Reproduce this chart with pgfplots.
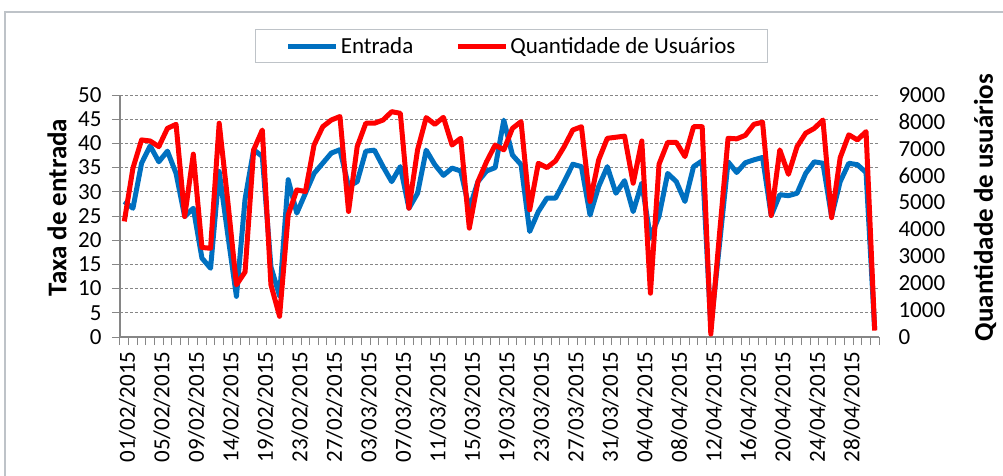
\documentclass[border=0pt]{standalone}
\usepackage{pgfplots}
\pgfplotsset{compat=1.18}
\usepackage{pgfplotstable}
\usepackage{fontspec}
\setmainfont{Carlito}
\definecolor{excelblue}{RGB}{0,112,192}
\definecolor{excelred}{RGB}{255,0,0}
\definecolor{axgray}{RGB}{134,134,134}
\definecolor{framegray}{RGB}{190,195,200}
\pgfplotstableread{
i blue red
0 28.0 4300
1 26.6 6280
2 35.9 7330
3 39.5 7290
4 36.2 7080
5 38.4 7760
6 33.8 7910
7 24.9 4480
8 26.6 6800
9 16.3 3330
10 14.2 3300
11 34.2 7950
12 21.1 5040
13 8.4 1940
14 28.5 2420
15 38.7 6960
16 37.3 7700
17 14.5 1940
18 8.5 770
19 32.5 4540
20 25.6 5470
21 29.7 5410
22 33.8 7140
23 35.9 7820
24 38.0 8070
25 38.7 8200
26 31.1 4670
27 32.1 7080
28 38.4 7950
29 38.6 7950
30 35.2 8070
31 32.1 8380
32 35.2 8320
33 26.6 4790
34 29.7 6960
35 38.6 8160
36 35.6 7910
37 33.4 8170
38 34.9 7140
39 34.3 7390
40 26.5 4050
41 32.1 5780
42 34.3 6520
43 35.0 7140
44 44.8 6960
45 37.6 7760
46 35.6 8010
47 21.8 4730
48 25.9 6460
49 28.7 6300
50 28.7 6550
51 32.1 7080
52 35.7 7700
53 35.2 7820
54 25.2 5040
55 31.1 6590
56 35.2 7390
57 29.7 7430
58 32.3 7470
59 25.9 5720
60 31.8 7290
61 20.5 1630
62 25.0 6430
63 33.8 7240
64 32.1 7240
65 28.0 6710
66 35.2 7820
67 36.4 7820
68 2.0 110
69 19.0 3800
70 36.2 7390
71 34.0 7370
72 36.0 7500
73 36.6 7910
74 37.1 7990
75 25.1 4520
76 29.4 6960
77 29.2 6050
78 29.7 7080
79 33.8 7580
80 36.2 7760
81 35.9 8070
82 24.9 4440
83 32.1 6670
84 35.9 7520
85 35.6 7330
86 34.0 7640
87 1.5 240
}\datatable
\begin{document}
\begin{tikzpicture}
\begin{axis}[
  at={(0pt,0pt)}, anchor=south west, scale only axis,
  width=759pt, height=242pt,
  xmin=-0.5, xmax=87.5, ymin=0, ymax=50,
  axis x line*=bottom, axis y line*=left,
  axis line style={axgray, line width=1.2pt, -},
  ytick={0,5,...,50},
  ymajorgrids,
  grid style={axgray, dash pattern=on 3pt off 2pt, line width=1pt},
  xtick={0,4,...,84},
  xticklabels={01/02/2015,05/02/2015,09/02/2015,14/02/2015,19/02/2015,23/02/2015,27/02/2015,03/03/2015,07/03/2015,11/03/2015,15/03/2015,19/03/2015,23/03/2015,27/03/2015,31/03/2015,04/04/2015,08/04/2015,12/04/2015,16/04/2015,20/04/2015,24/04/2015,28/04/2015},
  minor xtick={-0.5,0.5,...,87.5},
  tick align=outside,
  major tick length=8pt, minor tick length=8pt,
  tick style={axgray, line width=1pt},
  major x tick style={draw=none},
  tick label style={font=\fontsize{23}{27}\selectfont, text=black},
  /pgf/number format/assume math mode=true,
  xticklabel style={rotate=90, anchor=east, yshift=-3pt, xshift=-3pt},
  yticklabel style={xshift=-7pt},
  ylabel={Taxa de entrada},
  every axis y label/.style={at={(axis description cs:-0.083,0.535)}, rotate=90, anchor=center, font=\fontsize{27}{32}\selectfont\bfseries},
  clip=false,
]
\addplot[excelblue, line width=5pt, line join=round] table[x=i, y=blue] {\datatable};
\end{axis}
\begin{axis}[
  at={(0pt,0pt)}, anchor=south west, scale only axis,
  width=759pt, height=242pt,
  xmin=-0.5, xmax=87.5, ymin=0, ymax=9000,
  axis x line=none, axis y line*=right,
  y axis line style={draw=none},
  ytick={0,1000,...,9000},
  tick align=inside,
  major y tick style={draw=none},
  tick label style={font=\fontsize{23}{27}\selectfont, text=black},
  /pgf/number format/assume math mode=true,
  /pgf/number format/1000 sep={},
  yticklabel style={anchor=west, xshift=16pt},
  ylabel={Quantidade de usuários},
  every axis y label/.style={at={(axis description cs:1.1397,0.535)}, rotate=90, anchor=center, font=\fontsize{27}{32}\selectfont\bfseries},
  legend style={at={(axis description cs:0.516,1.2025)}, anchor=center,
    legend columns=2, draw=framegray, line width=1pt, font=\fontsize{23}{27}\selectfont,
    inner xsep=30pt, inner ysep=6pt,
    /tikz/every even column/.append style={column sep=40pt}},
  legend cell align=left,
  legend image code/.code={\draw[#1] (0pt,0pt) -- (48pt,0pt);},
  clip=false,
]
\addlegendimage{excelblue, line width=5pt}
\addlegendentry{Entrada}
\addplot[excelred, line width=5pt, line join=round] table[x=i, y=red] {\datatable};
\addlegendentry{Quantidade de Usuários}
\end{axis}
\draw[framegray, line width=1.2pt] (-115pt,-145pt) -- (-115pt,325pt) -- (890pt,325pt);
\pgfresetboundingbox
\path[use as bounding box] (-120pt,337pt) rectangle (883pt,-138pt);
\end{tikzpicture}
\end{document}
